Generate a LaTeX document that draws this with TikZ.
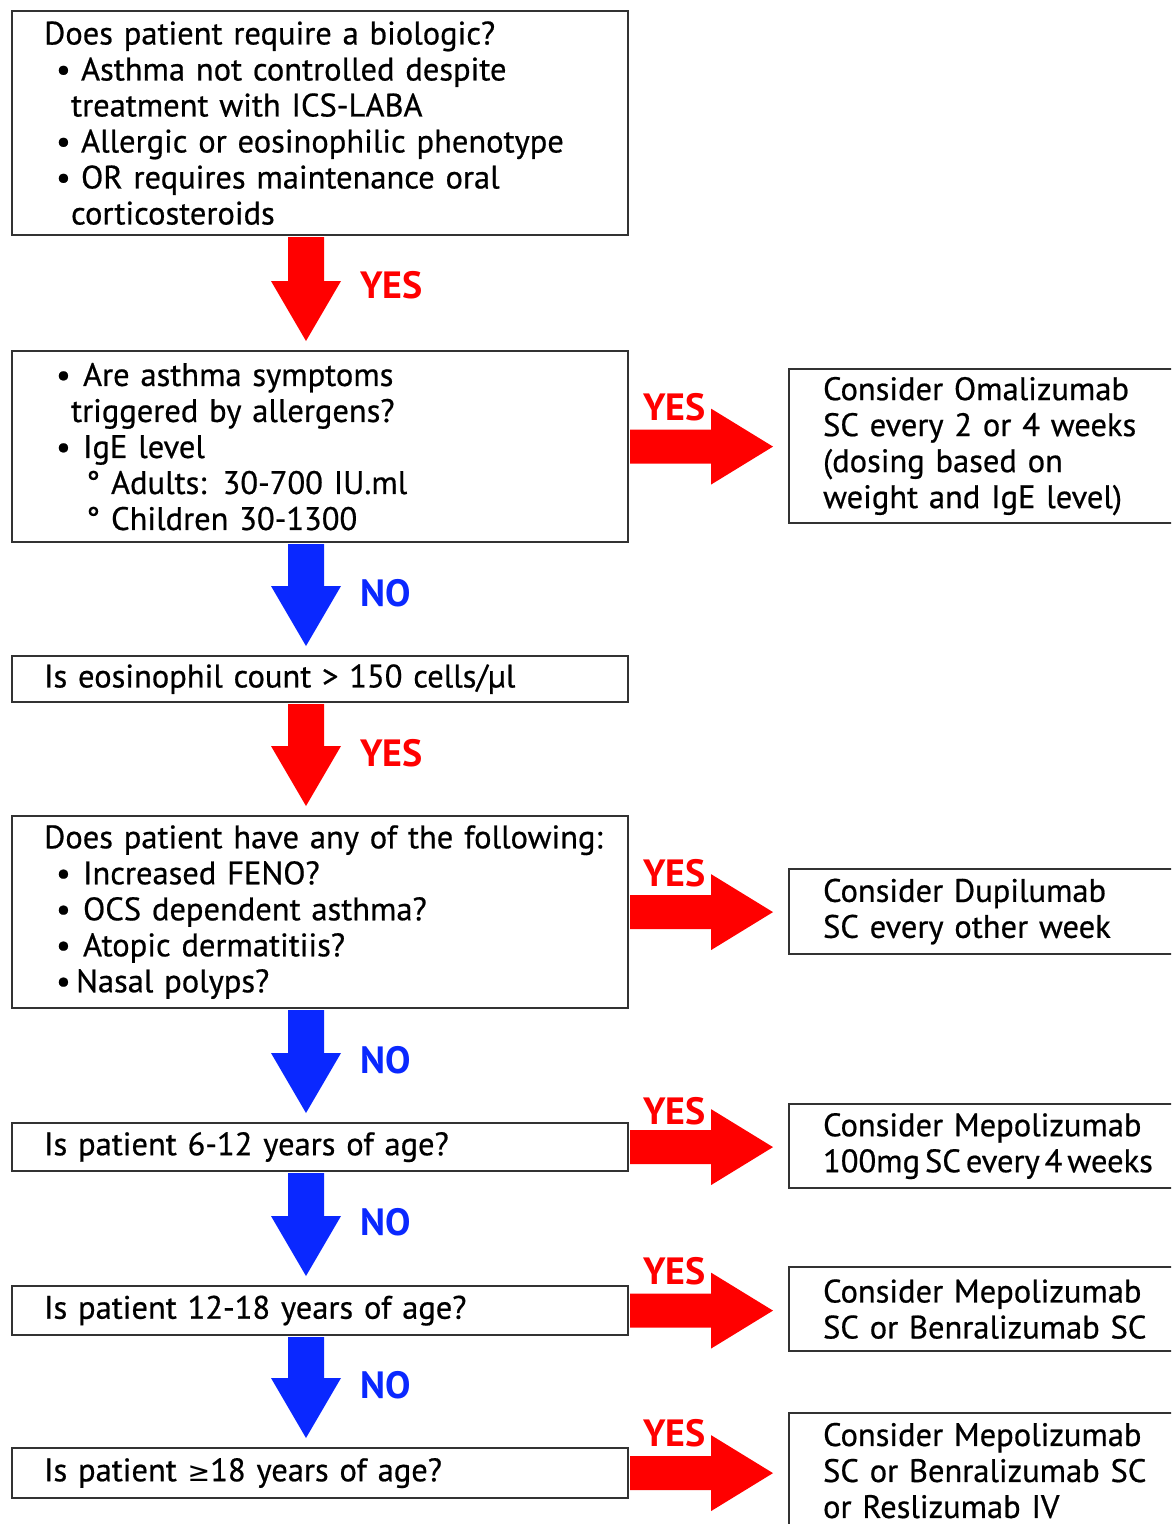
\documentclass[tikz,border=0pt]{standalone}
\usepackage{fontspec}
\setmainfont{PT Sans}
\newfontfamily\txtfont{PT Sans}[FakeBold=0.6]
\newfontfamily\symf{DejaVu Sans}
\usetikzlibrary{calc}
\definecolor{ared}{RGB}{255,0,0}
\definecolor{ablue}{RGB}{10,40,255}
\definecolor{edge}{RGB}{50,50,50}
\newcommand\bitem[1]{\hspace*{12pt}\makebox[25pt][l]{\textbullet}#1}
\newcommand\bitemb[1]{\hspace*{12pt}\makebox[27pt][l]{\textbullet}#1}
\newcommand\cont{\hspace*{27pt}}
\newcommand\degitem[1]{\hspace*{42pt}\makebox[25pt][l]{°}#1}
\newcommand\varrow[3]{%
  \fill[#3] let \p1=(#1.south), \p2=(#2.north) in
    (288pt,\y1-1pt) -- (288pt,\y2+69pt) -- (271pt,\y2+69pt) -- (306pt,\y2+9pt)
    -- (341pt,\y2+69pt) -- (324pt,\y2+69pt) -- (324pt,\y1-1pt) -- cycle;}
\newcommand\harrow[2]{%
  \fill[ared] let \p1=(#1.east), \p2=(#2.west) in
    (\x1+1pt,\y1+17pt) -- (\x2-77pt,\y1+17pt) -- (\x2-77pt,\y1+38pt) -- (\x2-15pt,\y1)
    -- (\x2-77pt,\y1-38pt) -- (\x2-77pt,\y1-17pt) -- (\x1+1pt,\y1-17pt) -- cycle;}
\begin{document}
\begin{tikzpicture}[x=1pt,y=1pt,
  box/.style={draw=edge, line width=2.2pt, fill=white, anchor=north west,
    inner xsep=32pt, inner ysep=0pt, text width=552pt, minimum width=616pt,
    align=left, font=\txtfont\fontsize{32.5}{36}\selectfont},
  rbox/.style={box, inner xsep=34pt, text width=360pt, minimum width=428pt},
  yes/.style={font=\fontsize{38}{40}\selectfont\bfseries, text=ared, inner sep=0pt, anchor=west},
  no/.style={yes, text=ablue},
]
\clip (0,0) rectangle (1171,-1524);
\fill[white] (0,0) rectangle (1171,-1524);

% main column
\node[box, minimum height=224pt] (b1) at (11,-10) {Does patient require a biologic?\\
\bitem{Asthma not controlled despite}\\
\cont treatment with ICS-LABA\\
\bitem{Allergic or eosinophilic phenotype}\\
\bitem{OR requires maintenance oral}\\
\cont corticosteroids};

\node[box, minimum height=191pt] (b2) at (11,-350) {\bitemb{Are asthma symptoms}\\
\cont triggered by allergens?\\
\bitemb{IgE level}\\
\degitem{Adults: 30-700 IU.ml}\\
\degitem{Children 30-1300}};

\node[box, minimum height=46pt] (b3) at (11,-655) {Is eosinophil count > 150 cells/µl};

\node[box, minimum height=192pt] (b4) at (11,-815) {\mbox{Does patient have any of the following:}\\
\bitemb{Increased FENO?}\\
\bitemb{OCS dependent asthma?}\\
\bitemb{Atopic dermatitiis?}\\
\hspace*{12pt}\makebox[20pt][l]{\textbullet}Nasal polyps?};

\node[box, minimum height=48pt] (b5) at (11,-1122) {Is patient 6-12 years of age?};
\node[box, minimum height=49pt] (b6) at (11,-1285) {Is patient 12-18 years of age?};
\node[box, minimum height=50pt] (b7) at (11,-1447) {Is patient {\symf\fontsize{27}{36}\selectfont ≥}18 years of age?};

% right column
\node[rbox, minimum height=154pt] (r1) at (788,-368) {Consider Omalizumab\\
SC every 2 or 4 weeks\\
(dosing based on\\
weight and IgE level)};
\node[rbox, minimum height=85pt] (r2) at (788,-868) {Consider Dupilumab\\
SC every other week};
\node[rbox, minimum height=84pt] (r3) at (788,-1103) {Consider Mepolizumab\\
\mbox{100mg\hspace{5pt}SC\hspace{5pt}every\hspace{5pt}4\hspace{5pt}weeks}};
\node[rbox, minimum height=84pt] (r4) at (788,-1266) {Consider Mepolizumab\\
SC or Benralizumab SC};
\node[rbox, minimum height=115pt] (r5) at (788,-1412) {Consider Mepolizumab\\
SC or Benralizumab SC\\
or Reslizumab IV};

% vertical arrows
\varrow{b1}{b2}{ared}
\varrow{b2}{b3}{ablue}
\varrow{b3}{b4}{ared}
\varrow{b4}{b5}{ablue}
\varrow{b5}{b6}{ablue}
\varrow{b6}{b7}{ablue}

% horizontal arrows
\harrow{b2}{r1}
\harrow{b4}{r2}
\harrow{b5}{r3}
\harrow{b6}{r4}
\harrow{b7}{r5}

% labels
\node[yes] (y1) at (360,-285) {YES};
\node[no]  (n1) at (360,-593) {NO};
\node[yes] (y2) at (360,-753) {YES};
\node[no]  (n2) at (360,-1060) {NO};
\node[no]  (n3) at (360,-1222) {NO};
\node[no]  (n4) at (360,-1385) {NO};
\node[yes] (y3) at (643,-407) {YES};
\node[yes] (y4) at (643,-873) {YES};
\node[yes] (y5) at (643,-1111) {YES};
\node[yes] (y6) at (643,-1271) {YES};
\node[yes] (y7) at (643,-1433) {YES};
\end{tikzpicture}
\end{document}
